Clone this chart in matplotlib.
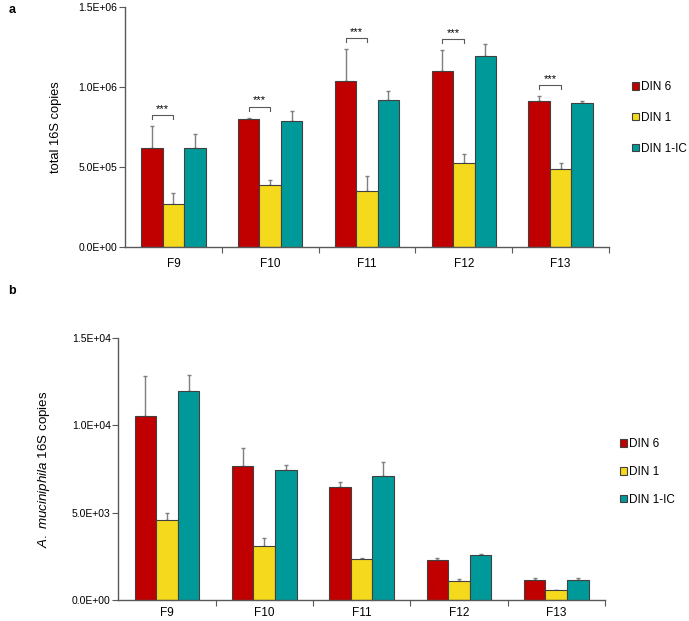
import matplotlib
matplotlib.use("Agg")
import matplotlib.pyplot as plt
import numpy as np
from matplotlib.ticker import FuncFormatter
from matplotlib.patches import Patch

plt.rcParams['font.family'] = ['Liberation Sans', 'DejaVu Sans']
plt.rcParams['mathtext.fontset'] = 'custom'
plt.rcParams['mathtext.rm'] = 'Liberation Sans'
plt.rcParams['mathtext.it'] = 'Liberation Sans:italic'

groups = ["F9", "F10", "F11", "F12", "F13"]
series = ["DIN 6", "DIN 1", "DIN 1-IC"]
colors = ["#c00000", "#f5d91c", "#009999"]

# panel a: total 16S copies
total_din6 = [6.2e5, 7.98e5, 1.036e6, 1.098e6, 9.1e5]
total_din1 = [2.7e5, 3.88e5, 3.48e5, 5.23e5, 4.88e5]
total_ic = [6.2e5, 7.89e5, 9.19e5, 1.194e6, 8.98e5]
total_din6_err = [1.34e5, 0.08e5, 2.0e5, 1.31e5, 0.31e5]
total_din1_err = [0.67e5, 0.29e5, 0.94e5, 0.58e5, 0.36e5]
total_ic_err = [0.84e5, 0.59e5, 0.54e5, 0.75e5, 0.13e5]

# panel b: A. muciniphila 16S copies
akk_din6 = [10540, 7650, 6450, 2260, 1110]
akk_din1 = [4555, 3100, 2320, 1050, 540]
akk_ic = [11970, 7440, 7120, 2580, 1110]
akk_din6_err = [2280, 1070, 280, 110, 130]
akk_din1_err = [400, 440, 100, 110, 20]
akk_ic_err = [900, 290, 760, 60, 160]

fig = plt.figure(figsize=(6.89, 6.21), dpi=100)
ax1 = fig.add_axes([0.1814, 0.6023, 0.7025, 0.3865])
ax2 = fig.add_axes([0.1717, 0.0343, 0.7063, 0.4209])

x = np.arange(len(groups))
w = 0.222
sci = FuncFormatter(lambda v, p: "%.1E" % v)


def draw(ax, vals, errs, ymax, step, xpad):
    for i, (v, e) in enumerate(zip(vals, errs)):
        pos = x + (i - 1) * w
        ax.bar(pos, v, w, color=colors[i], edgecolor="#404040", linewidth=0.8,
               label=series[i], zorder=2)
        ax.errorbar(pos, v, yerr=[np.zeros(len(v)), e], fmt="none",
                    ecolor="#7f7f7f", elinewidth=1, capsize=1.5, capthick=1, zorder=1)
    ax.set_xlim(-0.5, len(groups) - 0.5)
    ax.set_ylim(0, ymax)
    ax.set_yticks(np.arange(0, ymax + step / 2, step))
    ax.yaxis.set_major_formatter(sci)
    ax.set_xticks(np.arange(len(groups)) + 0.5)
    ax.set_xticklabels([])
    ax.set_xticks(x, minor=True)
    ax.set_xticklabels(groups, minor=True)
    ax.tick_params(axis="x", which="minor", length=0, labelsize=8.5, pad=xpad)
    ax.tick_params(axis="x", which="major", length=4, color="#595959")
    ax.tick_params(axis="y", length=4, color="#595959", labelsize=7.5, pad=1.5)
    for s in ["top", "right"]:
        ax.spines[s].set_visible(False)
    for s in ["left", "bottom"]:
        ax.spines[s].set_color("#595959")
        ax.spines[s].set_linewidth(1)


draw(ax1, [total_din6, total_din1, total_ic],
     [total_din6_err, total_din1_err, total_ic_err], 1.5e6, 5e5, 8)
draw(ax2, [akk_din6, akk_din1, akk_ic],
     [akk_din6_err, akk_din1_err, akk_ic_err], 1.5e4, 5e3, 5.5)

# significance brackets DIN 6 vs DIN 1
for i in range(len(groups)):
    top = max(total_din6[i] + total_din6_err[i], total_din1[i] + total_din1_err[i])
    yb = top + 0.07e6
    x0, x1 = x[i] - w, x[i]
    ax1.plot([x0, x0, x1, x1], [yb - 0.025e6, yb, yb, yb - 0.025e6],
             color="#595959", lw=0.8)
    ax1.text((x0 + x1) / 2, yb + 0.008e6, "***", ha="center", va="bottom",
             fontsize=8)

ax1.set_ylabel("total 16S copies", fontsize=9.3)
ax1.yaxis.set_label_coords(-0.13, 0.5)
ax2.set_ylabel(r"$\it{A.\ muciniphila}$ 16S copies", fontsize=9.6)
ax2.yaxis.set_label_coords(-0.137, 0.5)

handles = [Patch(facecolor=c, edgecolor="#404040", linewidth=0.8) for c in colors]
fig.legend(handles, series, loc="upper left", bbox_to_anchor=(632 / 689, 1 - 81 / 621),
           frameon=False, fontsize=8.5, handlelength=0.6, handleheight=0.6,
           handletextpad=0.2, labelspacing=1.6, borderpad=0, borderaxespad=0)
fig.legend(handles, series, loc="upper left", bbox_to_anchor=(620 / 689, 1 - 438 / 621),
           frameon=False, fontsize=8.5, handlelength=0.6, handleheight=0.6,
           handletextpad=0.2, labelspacing=1.35, borderpad=0, borderaxespad=0)

fig.text(0.012, 1 - 10 / 621, "a", fontsize=9, fontweight="bold", va="center")
fig.text(0.012, 1 - 291 / 621, "b", fontsize=9, fontweight="bold", va="center")

fig.savefig("out.png", dpi=100)
